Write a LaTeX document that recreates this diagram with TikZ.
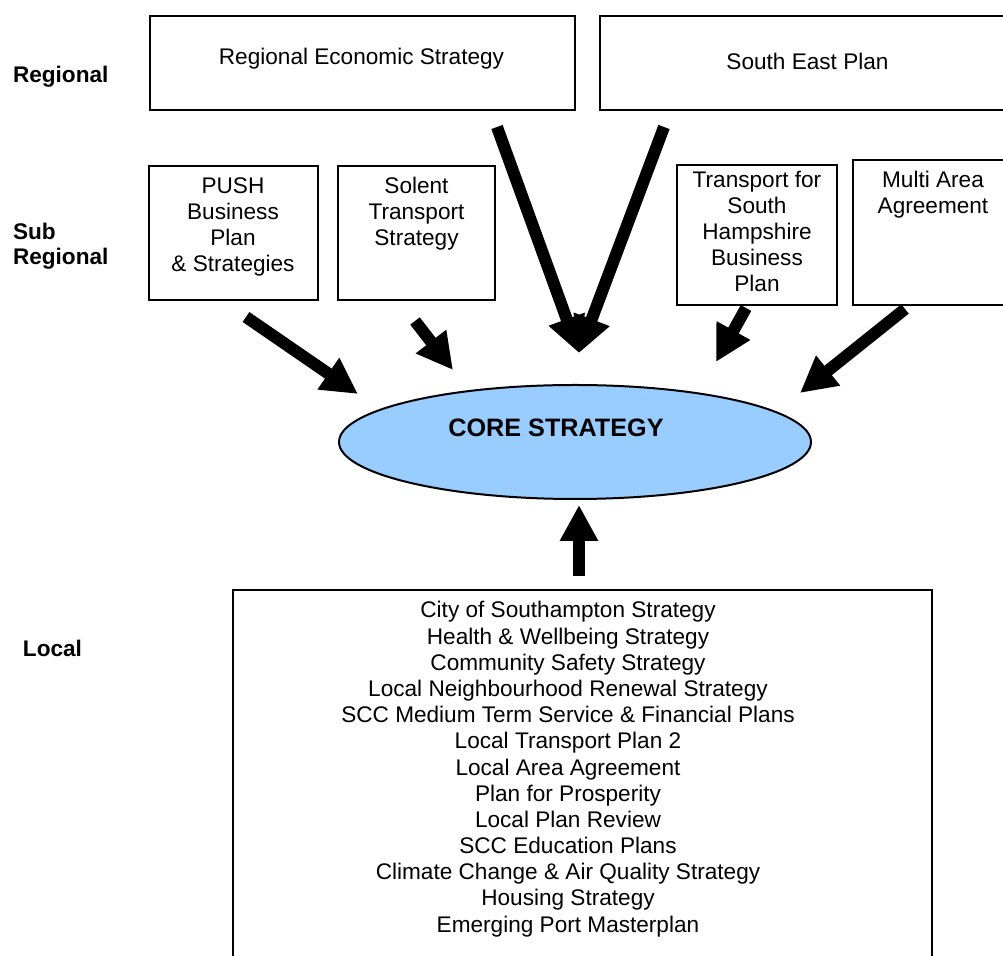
\documentclass[tikz,border=0pt]{standalone}
\usepackage{fontspec}
\setmainfont{Liberation Sans}
\usetikzlibrary{arrows.meta,shapes.geometric}
\definecolor{coreblue}{RGB}{153,204,255}
\begin{document}
\begin{tikzpicture}[x=0.5pt,y=-0.5pt,
  every node/.style={font=\fontsize{11.3}{13}\selectfont, inner sep=0pt, outer sep=0pt},
  planbox/.style={draw=black, line width=1pt, rectangle, anchor=north west},
  textline/.style={anchor=base},
  tierlabel/.style={anchor=base west, font=\fontsize{11.3}{13}\selectfont\bfseries},
  flow/.style={line width=6pt, -{Triangle[length=18pt,width=18pt]}},
]
\useasboundingbox (0,0) rectangle (1003,956);
\begin{scope}
\clip (0,0) rectangle (1003,956);

% tier labels
\node[tierlabel] (tReg) at (13,83) {Regional};
\node[tierlabel] (tSub) at (13,240) {Sub};
\node[tierlabel] (tSubReg) at (13,265) {Regional};
\node[tierlabel] (tLoc) at (23,657) {Local};

% regional documents
\node[planbox, minimum width=212.5pt, minimum height=47pt] (res) at (150,16) {};
\node[textline] (resT) at (361.5,65) {Regional Economic Strategy};
\node[planbox, minimum width=207.5pt, minimum height=47pt] (sep) at (600,16) {};
\node[textline] (sepT) at (807.5,70) {South East Plan};

% sub-regional documents
\node[planbox, minimum width=84.5pt, minimum height=67pt] (push) at (149,166) {};
\foreach \t [count=\i] in {PUSH,Business,Plan,\& Strategies}
  \node[textline] (push\i) at (233,{194+26*(\i-1)}) {\t};

\node[planbox, minimum width=78.5pt, minimum height=67pt] (sol) at (338,166) {};
\foreach \t [count=\i] in {Solent,Transport,Strategy}
  \node[textline] (sol\i) at (416.5,{194+26*(\i-1)}) {\t};

\node[planbox, minimum width=80pt, minimum height=70pt] (tsh) at (677,165) {};
\foreach \t [count=\i] in {Transport for,South,Hampshire,Business,Plan}
  \node[textline] (tsh\i) at (757,{188+26*(\i-1)}) {\t};

\node[planbox, minimum width=80pt, minimum height=72.5pt] (maa) at (853,160) {};
\foreach \t [count=\i] in {Multi Area,Agreement}
  \node[textline] (maa\i) at (933,{188+26*(\i-1)}) {\t};

% core strategy
\node[ellipse, draw=black, line width=1pt, fill=coreblue,
      minimum width=236pt, minimum height=57pt] (core) at (575,442) {};
\node[textline, font=\fontsize{12.6}{14}\selectfont\bfseries] (coreT) at (556,437) {CORE STRATEGY};

% local documents
\node[planbox, minimum width=349.5pt, minimum height=200pt] (loc) at (233,590) {};
\foreach \t [count=\i] in {City of Southampton Strategy,
    Health \& Wellbeing Strategy,
    Community Safety Strategy,
    Local Neighbourhood Renewal Strategy,
    SCC Medium Term Service \& Financial Plans,
    Local Transport Plan 2,
    Local Area Agreement,
    Plan for Prosperity,
    Local Plan Review,
    SCC Education Plans,
    Climate Change \& Air Quality Strategy,
    Housing Strategy,
    Emerging Port Masterplan}
  \node[textline] (loc\i) at (568,{618+26.17*(\i-1)}) {\t};

% arrow end points
\coordinate (resA) at (497,127);
\coordinate (sepA) at (664,127);
\coordinate (topTip) at (579,353);
\coordinate (pushA) at (246,317);
\coordinate (pushB) at (358,394);
\coordinate (solA) at (415,321);
\coordinate (solB) at (453,370);
\coordinate (tshA) at (746,308);
\coordinate (tshB) at (716,362);
\coordinate (maaA) at (905,309);
\coordinate (maaB) at (800,393);
\coordinate (locA) at (579,576);
\coordinate (locB) at (579,505);

% influence arrows
\draw[flow] (resA) -- (topTip);
\draw[flow] (sepA) -- (topTip);
\draw[flow] (pushA) -- (pushB);
\draw[flow] (solA) -- (solB);
\draw[flow] (tshA) -- (tshB);
\draw[flow] (maaA) -- (maaB);
\draw[flow] (locA) -- (locB);
\end{scope}
\end{tikzpicture}
\end{document}
